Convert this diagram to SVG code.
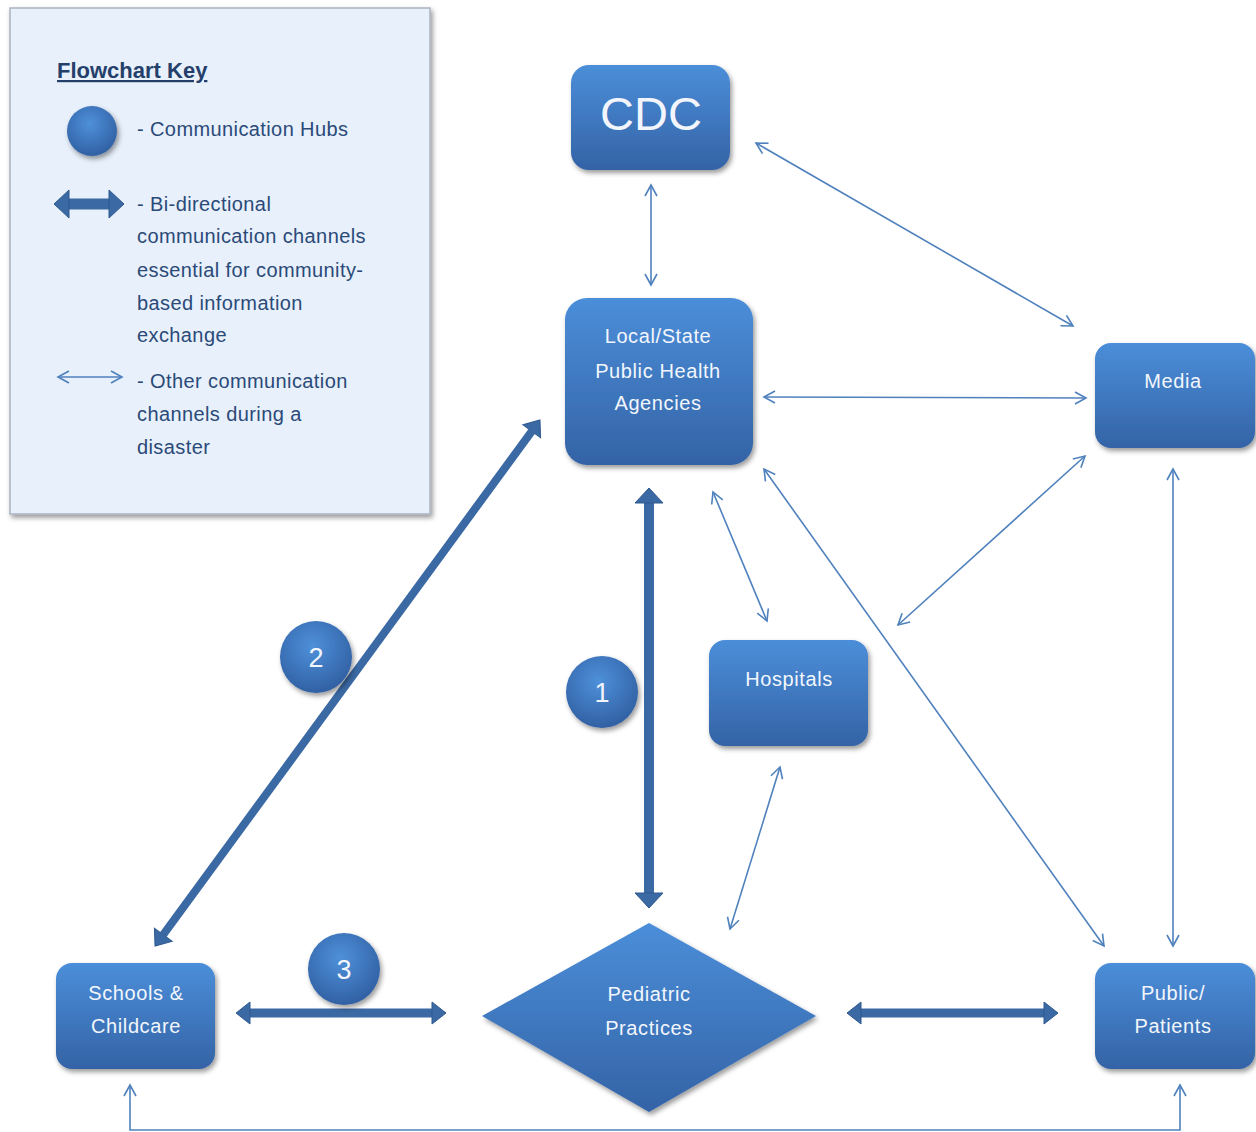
<svg xmlns="http://www.w3.org/2000/svg" width="1256" height="1132" viewBox="0 0 1256 1132">
<style>
.lbl{font-family:"Liberation Sans",Arial,sans-serif;fill:#f2f6fc;text-anchor:middle}
.nl{font-size:20px;letter-spacing:0.6px}
.key{font-family:"Liberation Sans",Arial,sans-serif;fill:#2b4a78;font-size:20px;letter-spacing:0.4px}
.thin{stroke:#4f81bd;stroke-width:1.6;fill:none;marker-start:url(#oa);marker-end:url(#oa)}
.thick{stroke:#3b69a4;fill:none}
</style>
<defs>
<linearGradient id="ng" x1="0" y1="0" x2="0" y2="1">
<stop offset="0" stop-color="#4b8ed9"/><stop offset="1" stop-color="#3463a6"/>
</linearGradient>
<radialGradient id="cg" cx="0.45" cy="0.35" r="0.7">
<stop offset="0" stop-color="#4e90da"/><stop offset="1" stop-color="#2f5d9f"/>
</radialGradient>
<filter id="sh" x="-20%" y="-20%" width="140%" height="140%">
<feDropShadow dx="2" dy="3" stdDeviation="2.5" flood-color="#000" flood-opacity="0.4"/>
</filter>
<marker id="oa" markerUnits="userSpaceOnUse" markerWidth="20" markerHeight="20" refX="0" refY="0" orient="auto-start-reverse" overflow="visible">
<path d="M-11,-6 L0,0 L-11,6" fill="none" stroke="#4f81bd" stroke-width="1.6"/>
</marker>
<marker id="ta" markerUnits="userSpaceOnUse" markerWidth="30" markerHeight="30" refX="0" refY="0" orient="auto-start-reverse" overflow="visible">
<path d="M0,-11 L14,0 L0,11 Z" fill="#3b69a4" stroke="#2f5a8e" stroke-width="1"/>
</marker>
<marker id="tb" markerUnits="userSpaceOnUse" markerWidth="34" markerHeight="34" refX="0" refY="0" orient="auto-start-reverse" overflow="visible">
<path d="M0,-14 L15,0 L0,14 Z" fill="#3b69a4" stroke="#2f5a8e" stroke-width="1"/>
</marker>
</defs>
<rect width="1256" height="1132" fill="#ffffff"/>

<g id="legend">
<rect x="10" y="8" width="420" height="506" fill="#e7f0fb" stroke="#aab4c2" stroke-width="1.5" filter="url(#sh)"/>
<text x="57" y="78" font-family="'Liberation Sans',Arial,sans-serif" font-size="22" font-weight="bold" fill="#253f6b" text-decoration="underline">Flowchart Key</text>
<circle cx="92" cy="131" r="25" fill="url(#cg)" filter="url(#sh)"/>
<text class="key" x="137" y="136">- Communication Hubs</text>
<line x1="69" y1="204" x2="109" y2="204" stroke="#3b69a4" stroke-width="11" marker-start="url(#tb)" marker-end="url(#tb)"/>
<text class="key" x="137" y="211">- Bi-directional</text>
<text class="key" x="137" y="243">communication channels</text>
<text class="key" x="137" y="277">essential for community-</text>
<text class="key" x="137" y="310">based information</text>
<text class="key" x="137" y="342">exchange</text>
<line class="thin" x1="58" y1="377" x2="122" y2="377"/>
<text class="key" x="137" y="388">- Other communication</text>
<text class="key" x="137" y="421">channels during a</text>
<text class="key" x="137" y="454">disaster</text>
</g>

<g id="connectors">
<line class="thin" x1="651" y1="185" x2="651" y2="285"/>
<line class="thin" x1="756" y1="143" x2="1073" y2="326"/>
<line class="thin" x1="764" y1="397" x2="1086" y2="398"/>
<line class="thin" x1="713" y1="492" x2="767" y2="621"/>
<line class="thin" x1="764" y1="469" x2="1104" y2="946"/>
<line class="thin" x1="1085" y1="456" x2="898" y2="625"/>
<line class="thin" x1="1173" y1="469" x2="1173" y2="946"/>
<line class="thin" x1="780" y1="767" x2="730" y2="929"/>
<polyline class="thin" points="130,1085 130,1130 1180,1130 1180,1085"/>
<line class="thick" x1="649" y1="503" x2="649" y2="893" stroke-width="10" marker-start="url(#tb)" marker-end="url(#tb)"/>
<line class="thick" x1="531.7" y1="431.3" x2="163.3" y2="934.7" stroke-width="8" marker-start="url(#ta)" marker-end="url(#ta)"/>
<line class="thick" x1="250" y1="1013" x2="432" y2="1013" stroke-width="9" marker-start="url(#ta)" marker-end="url(#ta)"/>
<line class="thick" x1="861" y1="1013" x2="1044" y2="1013" stroke-width="9" marker-start="url(#ta)" marker-end="url(#ta)"/>
</g>

<g id="cdc">
<rect x="571" y="65" width="159" height="105" rx="18" fill="url(#ng)" filter="url(#sh)"/>
<text class="lbl" x="651" y="130" font-size="47">CDC</text>
</g>
<g id="local-state">
<rect x="565" y="298" width="188" height="167" rx="22" fill="url(#ng)" filter="url(#sh)"/>
<text class="lbl nl" x="658" y="343">Local/State</text>
<text class="lbl nl" x="658" y="378">Public Health</text>
<text class="lbl nl" x="658" y="410">Agencies</text>
</g>
<g id="media">
<rect x="1095" y="343" width="160" height="105" rx="16" fill="url(#ng)" filter="url(#sh)"/>
<text class="lbl nl" x="1173" y="388">Media</text>
</g>
<g id="hospitals">
<rect x="709" y="640" width="159" height="106" rx="16" fill="url(#ng)" filter="url(#sh)"/>
<text class="lbl nl" x="789" y="686">Hospitals</text>
</g>
<g id="schools">
<rect x="56" y="963" width="159" height="106" rx="16" fill="url(#ng)" filter="url(#sh)"/>
<text class="lbl nl" x="136" y="1000">Schools &amp;</text>
<text class="lbl nl" x="136" y="1033">Childcare</text>
</g>
<g id="public">
<rect x="1095" y="963" width="160" height="106" rx="16" fill="url(#ng)" filter="url(#sh)"/>
<text class="lbl nl" x="1173" y="1000">Public/</text>
<text class="lbl nl" x="1173" y="1033">Patients</text>
</g>
<g id="pediatric">
<polygon points="649,923 816,1016 649,1112 482,1016" fill="url(#ng)" filter="url(#sh)"/>
<text class="lbl nl" x="649" y="1001">Pediatric</text>
<text class="lbl nl" x="649" y="1035">Practices</text>
</g>
<g id="hub1">
<circle cx="602" cy="692" r="36" fill="url(#cg)" filter="url(#sh)"/>
<text class="lbl" x="602" y="702" font-size="27">1</text>
</g>
<g id="hub2">
<circle cx="316" cy="657" r="36" fill="url(#cg)" filter="url(#sh)"/>
<text class="lbl" x="316" y="667" font-size="27">2</text>
</g>
<g id="hub3">
<circle cx="344" cy="969" r="36" fill="url(#cg)" filter="url(#sh)"/>
<text class="lbl" x="344" y="979" font-size="27">3</text>
</g>
</svg>
